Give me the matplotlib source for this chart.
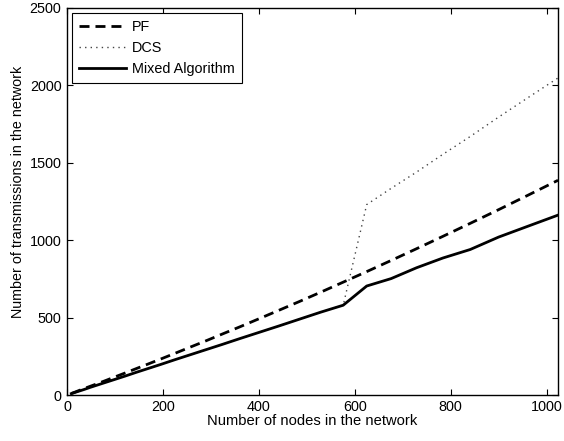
import matplotlib
matplotlib.use('Agg')
import matplotlib.pyplot as plt

plt.rcParams['font.family'] = ['Liberation Sans', 'DejaVu Sans']
plt.rcParams['lines.scale_dashes'] = False

nodes = [9, 16, 25, 36, 49, 64, 81, 100, 121, 144, 169, 196, 225, 256, 289,
         324, 361, 400, 441, 484, 529, 576, 625, 676, 729, 784, 841, 900,
         961, 1024]
pf = [10, 18, 29, 42, 57, 74, 94, 117, 142, 170, 200, 233, 269, 308, 349,
      394, 441, 492, 546, 603, 664, 729, 797, 869, 945, 1025, 1109, 1197,
      1290, 1387]
dcs = [9, 16, 25, 36, 50, 65, 82, 101, 122, 146, 171, 198, 228, 259, 292,
       327, 365, 404, 445, 489, 535, 580, 1230, 1335, 1440, 1555, 1670, 1795,
       1920, 2048]
mixed = [9, 16, 25, 36, 50, 65, 82, 101, 122, 146, 171, 198, 228, 259, 292,
         327, 365, 404, 445, 489, 535, 580, 704, 752, 822, 885, 940, 1020,
         1090, 1162]

fig = plt.figure(figsize=(5.64, 4.41), dpi=100)
ax = fig.add_axes([0.1188, 0.1043, 0.8706, 0.8776])

ax.plot(nodes, pf, color='black', lw=2, linestyle=(0, (7.2, 4.3)), label='PF')
ax.plot(nodes, dcs, color='#444444', lw=1, linestyle=(0, (1, 3)), label='DCS')
ax.plot(nodes, mixed, color='black', lw=2, label='Mixed Algorithm')

ax.set_xlim(0, 1024)
ax.set_ylim(0, 2500)
ax.set_xticks([0, 200, 400, 600, 800, 1000])
ax.set_yticks([0, 500, 1000, 1500, 2000, 2500])
ax.tick_params(axis='both', direction='in', length=4, width=0.8, top=True,
               right=True, labelsize=10.4)
ax.tick_params(axis='x', pad=3.5)
ax.tick_params(axis='y', pad=4)
for s in ax.spines.values():
    s.set_linewidth(1)

ax.set_xlabel('Number of nodes in the network', fontsize=10.6, labelpad=0)
ax.set_ylabel('Number of transmissions in the network', fontsize=10.3,
              labelpad=3)
ax.yaxis.label.set_y(0.525)

leg = ax.legend(loc='upper left', fontsize=10.4, fancybox=False, framealpha=1,
                edgecolor='black', handlelength=3.2, handletextpad=0.45,
                borderaxespad=0.35, borderpad=0.5, labelspacing=0.48)
leg.get_frame().set_linewidth(0.8)

fig.savefig('out.png', dpi=100)
